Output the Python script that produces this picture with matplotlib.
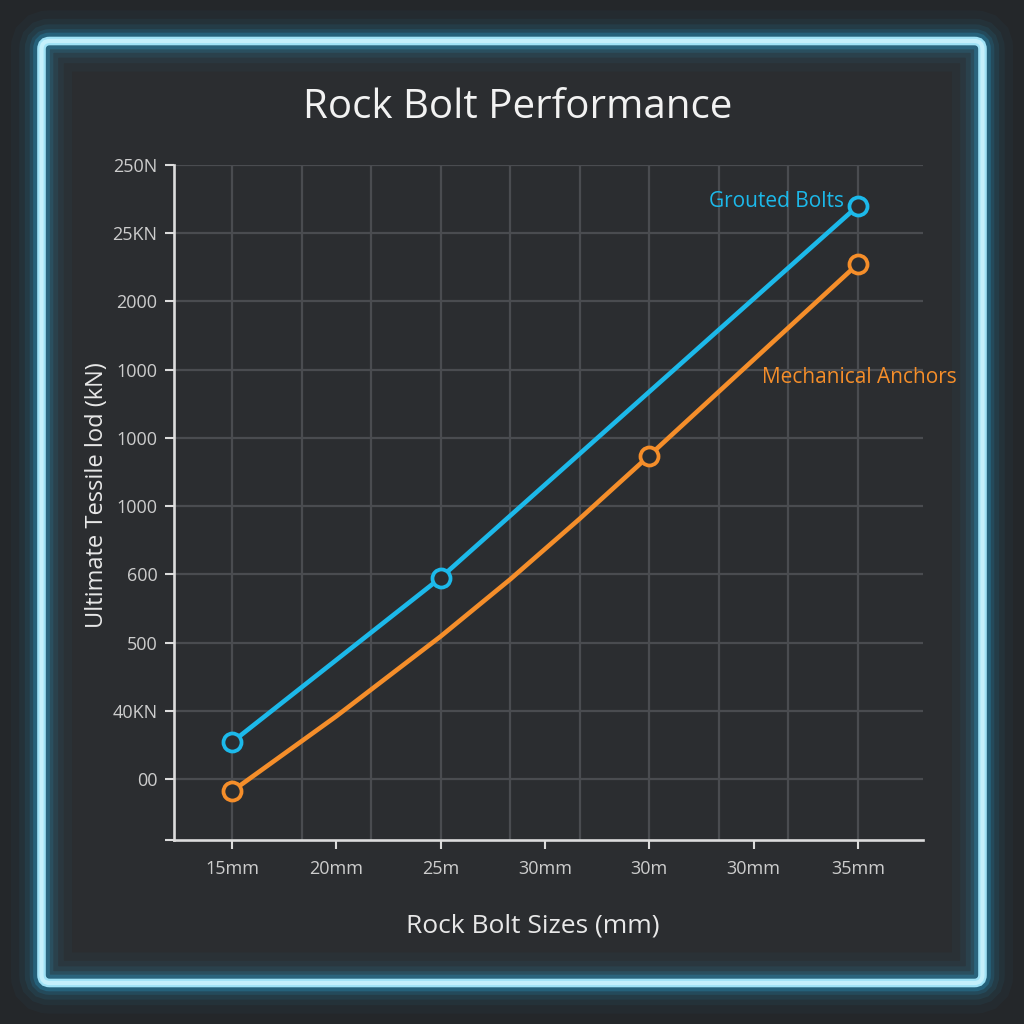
import matplotlib
matplotlib.use("Agg")
import matplotlib.pyplot as plt
from matplotlib.patches import FancyBboxPatch
import numpy as np

plt.rcParams['font.family'] = ['Open Sans', 'DejaVu Sans']

# ---------------- data (positions on the chart's own category scales) -------------
x_labels = ["15mm", "20mm", "25m", "30mm", "30m", "30mm", "35mm"]
y_labels = ["00", "40KN", "500", "600", "1000", "1000", "1000", "2000", "25KN", "250N"]

grouted_x = [0, 2, 6]
grouted_y = [0.54, 2.95, 8.40]

mech_line_x = [0, 1, 2, 2.67, 3.33, 4, 6]
mech_line_y = [-0.18, 0.92, 2.09, 2.93, 3.81, 4.74, 7.55]
mech_x = [0, 4, 6]
mech_y = [-0.18, 4.74, 7.55]

title = "Rock Bolt Performance"
xlabel = "Rock Bolt Sizes (mm)"
ylabel = "Ultimate Tessile lod (kN)"
grouted_name = "Grouted Bolts"
mech_name = "Mechanical Anchors"

# ---------------- style ----------------
BG_IN = "#2b2d30"
BG_OUT = "#24272a"
BLUE = "#1cb9ea"
ORANGE = "#f58e2a"
GRID = "#4a4c50"
SPINE = "#dcdcdc"
TICKTXT = "#cdcdcd"

fig = plt.figure(figsize=(10.24, 10.24), dpi=100)
fig.patch.set_facecolor(BG_OUT)

# panel inside the frame
x0, y0, x1, y1 = 41.5 / 1024, 1 - 983 / 1024, 982.5 / 1024, 1 - 41 / 1024
box = "round,pad=0,rounding_size=0.008"
panel = FancyBboxPatch((x0, y0), x1 - x0, y1 - y0, boxstyle=box,
                       transform=fig.transFigure, facecolor=BG_IN,
                       edgecolor="none", zorder=0)
fig.patches.append(panel)
# glow layers
for lw, a in [(44, 0.04), (32, 0.06), (24, 0.09), (17, 0.14), (12, 0.25)]:
    g = FancyBboxPatch((x0, y0), x1 - x0, y1 - y0, boxstyle=box,
                       transform=fig.transFigure, facecolor="none",
                       edgecolor="#2aa6d8", linewidth=lw, alpha=a, zorder=1)
    fig.patches.append(g)
core = FancyBboxPatch((x0, y0), x1 - x0, y1 - y0, boxstyle=box,
                      transform=fig.transFigure, facecolor="none",
                      edgecolor="#9fe2f6", linewidth=6.2, zorder=2)
fig.patches.append(core)
core2 = FancyBboxPatch((x0, y0), x1 - x0, y1 - y0, boxstyle=box,
                       transform=fig.transFigure, facecolor="none",
                       edgecolor="#c4effb", linewidth=3.0, zorder=3)
fig.patches.append(core2)

ax = fig.add_axes([174 / 1024, 1 - 840 / 1024, (923 - 174) / 1024, (840 - 165) / 1024])
ax.set_facecolor("none")
ax.set_zorder(5)

ax.set_xlim(-0.556, 6.625)
ax.set_ylim(-0.894, 9)

# grid
for gx in np.arange(0, 6.01, 2 / 3):
    ax.axvline(gx, color=GRID, lw=1.6, zorder=1)
for gy in range(len(y_labels)):
    ax.axhline(gy, color=GRID, lw=1.6, zorder=1)

ax.set_xticks(range(len(x_labels)))
ax.set_xticklabels(x_labels)
ax.set_yticks([-0.894] + list(range(len(y_labels))))
ax.set_yticklabels([""] + y_labels)
ax.tick_params(axis="both", colors=SPINE, length=6.5, width=1.5, labelcolor=TICKTXT,
               labelsize=13)
ax.tick_params(axis="x", pad=8)
ax.tick_params(axis="y", pad=5.5)

for s in ["top", "right"]:
    ax.spines[s].set_visible(False)
for s in ["left", "bottom"]:
    ax.spines[s].set_color(SPINE)
    ax.spines[s].set_linewidth(1.9)
    ax.spines[s].set_zorder(3)

# series
ax.plot(grouted_x, grouted_y, color=BLUE, lw=3.3, zorder=4, solid_capstyle="round")
ax.plot(grouted_x, grouted_y, ls="none", marker="o", ms=13, mew=2.7,
        mec=BLUE, mfc=BG_IN, zorder=5)
ax.plot(mech_line_x, mech_line_y, color=ORANGE, lw=3.3, zorder=4,
        solid_capstyle="round", solid_joinstyle="round")
ax.plot(mech_x, mech_y, ls="none", marker="o", ms=13, mew=2.7,
        mec=ORANGE, mfc=BG_IN, zorder=5)

ax.text(5.87, 8.46, grouted_name, color=BLUE, fontsize=15, ha="right", va="center", zorder=6)
ax.text(5.08, 5.88, mech_name, color=ORANGE, fontsize=15, ha="left", va="center", zorder=6)

ax.set_xlabel(xlabel, color="#e8e8e8", fontsize=19)
ax.xaxis.set_label_coords(0.479, -0.128)
ax.xaxis.label.set_va("center")
ax.set_ylabel(ylabel, color="#e8e8e8", fontsize=17)
ax.yaxis.set_label_coords(-0.103, 0.511)
ax.yaxis.label.set_va("center")

fig.text(518 / 1024, 1 - 108 / 1024, title, color="#f2f2f2", fontsize=29,
         ha="center", va="center")

fig.savefig("out.png", dpi=100, facecolor=fig.get_facecolor())
